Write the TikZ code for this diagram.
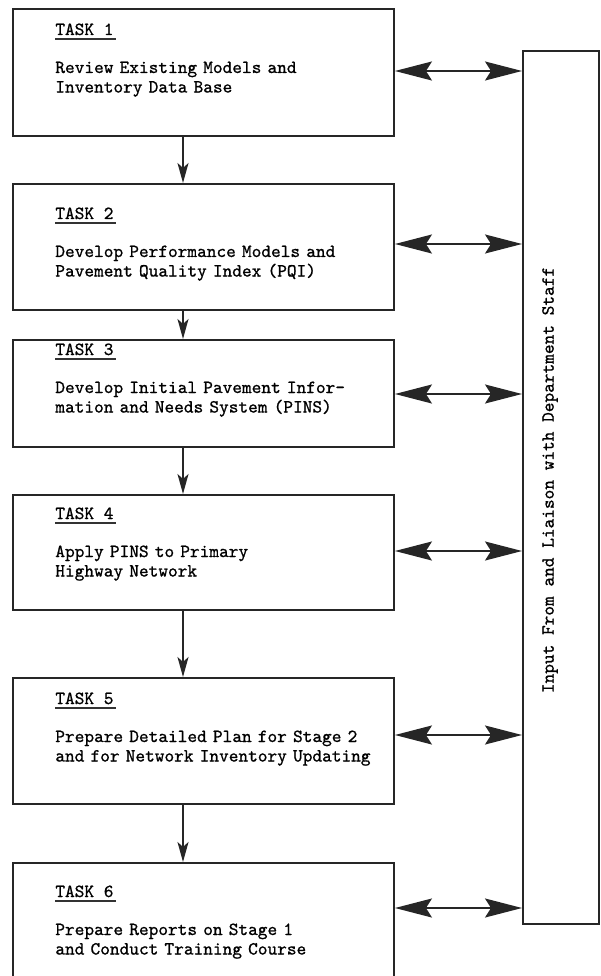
\documentclass[tikz,border=0pt]{standalone}
\usepackage{fontspec}
\newfontfamily\typer{Latin Modern Mono}[FakeBold=0.9]
\usetikzlibrary{arrows.meta,calc,positioning}

\begin{document}
\begin{tikzpicture}[x=1cm,y=1cm,font={\fontsize{10.5}{11.1}\selectfont\typer},
 taskbox/.style={draw=black!85,line width=1.1pt,minimum width=7.62cm,anchor=north west,inner sep=0},
 tasklbl/.style={anchor=base west,inner sep=0},
 taskdesc/.style={anchor=base west,inner sep=0,text width=7cm,align=left},
 flow/.style={draw=black!85,line width=1.2pt,-{Stealth[length=.4cm,width=.22cm,inset=.1cm]}},
 link/.style={draw=black!85,line width=1pt,
  {Stealth[length=.74cm,width=.38cm,inset=.12cm]}-{Stealth[length=.74cm,width=.38cm,inset=.12cm]}}]
\useasboundingbox (0,0) rectangle (12.02,-19.52);
\coordinate (col) at (3.66,0);
% side box with the staff input
\node[draw=black!85,line width=1.1pt,minimum width=1.52cm,minimum height=17.46cm,inner sep=0] (staff) at (11.22,-9.75) {};
\node[rotate=90] (stafftxt) at (11.0,-9.6) {Input From and Liaison with Department Staff};
% task boxes: number/top/height/label offset/link offset/text
\foreach \i/\ytop/\h/\off/\ay/\desc in {
 1/0.16/2.54/0.54/1.26/{Review Existing Models and\\Inventory Data Base},
 2/3.66/2.52/0.72/1.22/{Develop Performance Models and\\Pavement Quality Index (PQI)},
 3/6.78/2.14/0.32/1.10/{Develop Initial Pavement Infor-\\mation and Needs System (PINS)},
 4/9.88/2.30/0.50/1.14/{Apply PINS to Primary\\Highway Network},
 5/13.54/2.52/0.54/1.16/{Prepare Detailed Plan for Stage 2\\and for Network Inventory Updating},
 6/17.24/2.40/0.70/0.92/{Prepare Reports on Stage 1\\and Conduct Training Course}}{
 \node[taskbox,minimum height=\h cm] (t\i) at (0.24,-\ytop) {};
 \node[tasklbl] (lab\i) at ($(t\i.north west)+(.86,-\off)$) {TASK \i};
 \draw[black!80,line width=.8pt] ([yshift=-2.2pt]lab\i.base west) -- ([xshift=1pt,yshift=-2.2pt]lab\i.base east);
 \node[taskdesc] (desc\i) at ($(lab\i.base west)+(0,-.76)$) {\desc};
 \coordinate (a\i) at ($(t\i.north east)+(0,-\ay)$);
 \draw[link] (a\i) -- (a\i -| staff.west);
}
\foreach \a/\b in {1/2,2/3,3/4,4/5,5/6}
 \draw[flow] (t\a.south -| col) -- (t\b.north -| col);
\end{tikzpicture}
\end{document}
